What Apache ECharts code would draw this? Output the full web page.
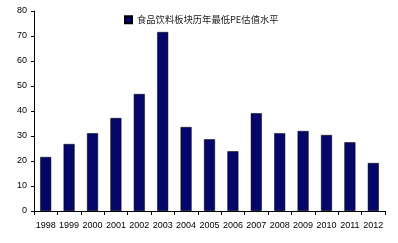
<!DOCTYPE html>
<html><head><meta charset="utf-8">
<script src="https://cdn.jsdelivr.net/npm/echarts@6/dist/echarts.min.js"></script>
<style>html,body{margin:0;padding:0;background:#fff}#c{width:398px;height:243px}</style>
</head><body><div id="c"></div>
<script>
var years = ['1998','1999','2000','2001','2002','2003','2004','2005','2006','2007','2008','2009','2010','2011','2012'];
var minPE = [21.6,26.8,31.1,37.2,46.8,71.6,33.6,28.7,23.9,39.1,31.1,32.0,30.4,27.5,19.2];
var seriesName = '食品饮料板块历年最低PE估值水平';
var yTicks = {min:0, max:80, interval:10};

var chart = echarts.init(document.getElementById('c'), null, {renderer:'canvas'});
chart.setOption({
  animation:false,
  grid:{left:34, right:13, top:11, bottom:32, containLabel:false},
  legend:{
    data:[seriesName], left:119, top:10, itemWidth:7, itemHeight:7, itemGap:4,
    icon:'rect',
    textStyle:{fontFamily:'Noto Sans CJK SC', fontSize:9.3, color:'#222'}
  },
  xAxis:{
    type:'category', data:years,
    axisLine:{lineStyle:{color:'#000', width:1}},
    axisTick:{show:true, alignWithLabel:false, length:4, inside:false, lineStyle:{color:'#000'}},
    axisLabel:{fontFamily:'Liberation Sans', fontSize:9, color:'#000', margin:10, interval:0}
  },
  yAxis:{
    type:'value', min:yTicks.min, max:yTicks.max, interval:yTicks.interval,
    axisLine:{show:true, lineStyle:{color:'#000', width:1}},
    axisTick:{show:true, length:3, lineStyle:{color:'#000'}},
    splitLine:{show:false},
    axisLabel:{fontFamily:'Liberation Sans', fontSize:9, color:'#000', margin:7}
  },
  series:[{
    name:seriesName, type:'bar', data:minPE, barWidth:11,
    itemStyle:{color:'#06066a', borderColor:'#000', borderWidth:0.5}
  }]
});
</script></body></html>
